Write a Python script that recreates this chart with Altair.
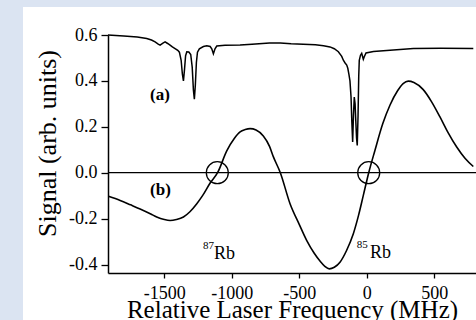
import altair as alt
import pandas as pd

# ---- data ----
a_x = [-1917, -1800, -1700, -1630, -1595, -1568, -1545, -1531, -1510, -1494, -1475, -1457,
       -1440, -1420, -1400, -1388, -1375, -1366, -1358, -1350, -1342, -1333, -1318, -1304,
       -1293, -1284, -1277, -1270, -1262, -1254, -1240, -1210, -1185, -1160, -1148, -1136,
       -1124, -1111, -1050, -938, -850, -720, -640, -560, -470, -380, -320, -272, -240,
       -210, -185, -173, -160, -148, -140, -132, -124, -116, -110, -104, -98, -92, -86,
       -81, -75, -70, -64, -59, -55, -46, -37, -30, -25, -18, -5, 50, 173, 346, 550, 790]
a_y = [0.600, 0.596, 0.591, 0.585, 0.578, 0.570, 0.560, 0.556, 0.565, 0.570, 0.563, 0.556,
       0.548, 0.541, 0.533, 0.525, 0.490, 0.430, 0.400, 0.450, 0.510, 0.527, 0.526, 0.515,
       0.460, 0.360, 0.320, 0.380, 0.480, 0.525, 0.540, 0.550, 0.553, 0.550, 0.540, 0.518,
       0.540, 0.552, 0.555, 0.556, 0.560, 0.565, 0.565, 0.562, 0.560, 0.557, 0.553, 0.548,
       0.540, 0.527, 0.507, 0.490, 0.478, 0.469, 0.455, 0.430, 0.400, 0.330, 0.220, 0.134,
       0.250, 0.330, 0.300, 0.228, 0.150, 0.119, 0.250, 0.420, 0.490, 0.512, 0.520, 0.505,
       0.494, 0.505, 0.522, 0.528, 0.534, 0.541, 0.542, 0.541]

b_x = [-1914, -1827, -1750, -1679, -1600, -1556, -1500, -1457, -1410, -1358, -1310, -1259,
       -1215, -1160, -1105, -1037, -980, -938, -900, -864, -820, -766, -720, -692, -640,
       -568, -500, -444, -390, -346, -310, -277, -240, -198, -150, -99, -60, -25, 15, 61,
       120, 173, 230, 270, 308, 350, 419, 480, 543, 600, 667, 730, 790]
b_y = [-0.103, -0.121, -0.140, -0.158, -0.180, -0.193, -0.204, -0.208, -0.204, -0.193,
       -0.170, -0.135, -0.099, -0.045, 0.000, 0.095, 0.150, 0.178, 0.188, 0.192, 0.186,
       0.160, 0.115, 0.070, 0.000, -0.135, -0.225, -0.296, -0.350, -0.385, -0.408, -0.419,
       -0.412, -0.390, -0.340, -0.266, -0.185, -0.099, 0.000, 0.097, 0.215, 0.295, 0.358,
       0.388, 0.399, 0.393, 0.362, 0.310, 0.243, 0.178, 0.112, 0.062, 0.027]

circle_x = [-1107, 15]
circle_y = [0.0, 0.0]

panel_labels = ["(a)", "(b)"]
panel_x = [-1605, -1605]
panel_y = [0.316, -0.099]

iso_sup = ["87", "85"]
iso_sup_x = [-1213, -74]
iso_sup_y = [-0.331, -0.329]
iso_el = ["Rb", "Rb"]
iso_el_x = [-1131, 24]
iso_el_y = [-0.374, -0.371]

x_ticks = [-1500, -1000, -500, 0, 500]
y_ticks = [-0.4, -0.2, 0.0, 0.2, 0.4, 0.6]
x_domain = [-1917, 810]
y_domain = [-0.437, 0.6]

FONT = "Liberation Serif"
W, H = 368, 238

df_a = pd.DataFrame({"x": a_x, "y": a_y})
df_b = pd.DataFrame({"x": b_x, "y": b_y})
df_c = pd.DataFrame({"x": circle_x, "y": circle_y})
df_p = pd.DataFrame({"x": panel_x, "y": panel_y, "t": panel_labels})
df_s = pd.DataFrame({"x": iso_sup_x, "y": iso_sup_y, "t": iso_sup})
df_e = pd.DataFrame({"x": iso_el_x, "y": iso_el_y, "t": iso_el})

xscale = alt.Scale(domain=x_domain, nice=False, zero=False)
yscale = alt.Scale(domain=y_domain, nice=False, zero=False)

x_axis = alt.Axis(
    title="Relative Laser Frequency (MHz)", values=x_ticks, grid=False,
    labelExpr="datum.value < 0 ? '-' + format(abs(datum.value), 'd') : format(datum.value, 'd')",
    labelFont=FONT, labelFontSize=18, labelColor="black", labelPadding=6,
    tickSize=5, tickColor="black", tickWidth=1.3,
    domainColor="black", domainWidth=1.5,
    titleFont=FONT, titleFontSize=25, titleFontWeight="normal", titleColor="black",
    titleY=44, titleBaseline="alphabetic", zindex=2,
)
y_axis = alt.Axis(
    title="Signal (arb. units)", values=y_ticks, grid=False,
    labelExpr="datum.value < 0 ? '-' + format(abs(datum.value), '.1f') : format(datum.value, '.1f')",
    labelFont=FONT, labelFontSize=18, labelColor="black", labelPadding=4,
    tickSize=7, tickColor="black", tickWidth=1.3,
    domainColor="black", domainWidth=1.5,
    titleFont=FONT, titleFontSize=26, titleFontWeight="normal", titleColor="black",
    titleAngle=-90, titleX=-53, titleY=108, titleBaseline="alphabetic", titleAlign="center",
    zindex=2,
)

panel = alt.Chart(pd.DataFrame({"k": [0]})).mark_rect(color="white").encode(
    x=alt.value(-85), x2=alt.value(W + 20), y=alt.value(-28), y2=alt.value(H + 60)
)

zero = alt.Chart(pd.DataFrame({"k": [0]})).mark_rule(color="black", strokeWidth=1.3).encode(
    y=alt.datum(0.0, scale=yscale)
)

line_a = alt.Chart(df_a).mark_line(color="black", strokeWidth=1.5).encode(
    x=alt.X("x:Q", scale=xscale, axis=x_axis),
    y=alt.Y("y:Q", scale=yscale, axis=y_axis),
)
line_b = alt.Chart(df_b).mark_line(color="black", strokeWidth=1.6, interpolate="monotone").encode(
    x=alt.X("x:Q", scale=xscale),
    y=alt.Y("y:Q", scale=yscale),
)
circles = alt.Chart(df_c).mark_point(shape="circle", size=484, filled=False, color="black",
                                      strokeWidth=1.3, opacity=1).encode(
    x=alt.X("x:Q", scale=xscale),
    y=alt.Y("y:Q", scale=yscale),
)
plabels = alt.Chart(df_p).mark_text(font=FONT, fontSize=17, fontWeight="bold", align="left",
                                    baseline="alphabetic", color="black").encode(
    x=alt.X("x:Q", scale=xscale), y=alt.Y("y:Q", scale=yscale), text="t:N"
)
sup = alt.Chart(df_s).mark_text(font=FONT, fontSize=11, align="left",
                                baseline="alphabetic", color="black").encode(
    x=alt.X("x:Q", scale=xscale), y=alt.Y("y:Q", scale=yscale), text="t:N"
)
el = alt.Chart(df_e).mark_text(font=FONT, fontSize=18, align="left",
                               baseline="alphabetic", color="black").encode(
    x=alt.X("x:Q", scale=xscale), y=alt.Y("y:Q", scale=yscale), text="t:N"
)

chart = alt.layer(panel, zero, line_a, line_b, circles, plabels, sup, el).properties(
    width=W, height=H,
    background="#dbe4f2",
    autosize=alt.AutoSizeParams(type="none"),
    padding={"left": 108, "top": 35, "right": 0, "bottom": 47},
).configure_view(strokeWidth=0)

chart.save("out.html", embed_options={"renderer": "svg", "actions": False})
